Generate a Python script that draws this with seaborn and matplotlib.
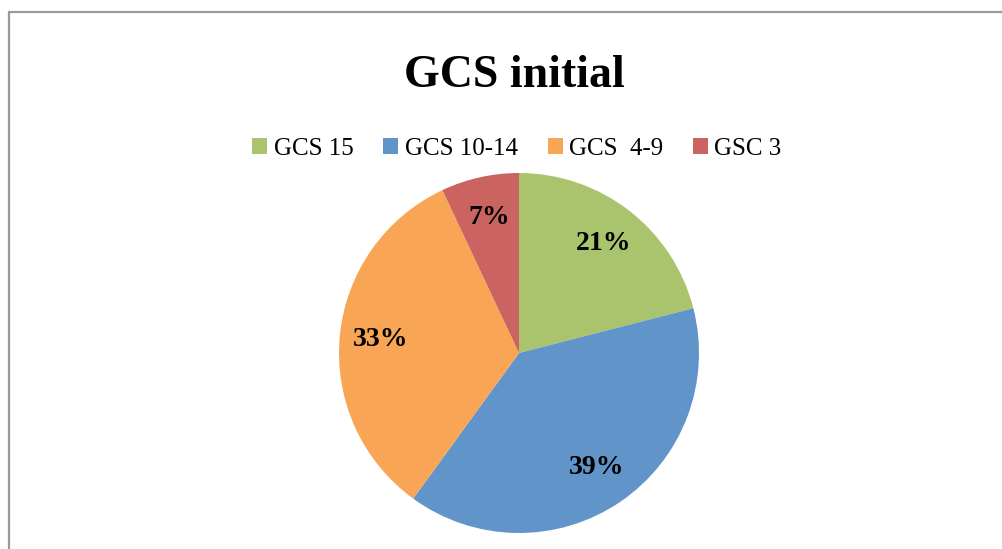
import matplotlib
matplotlib.use("Agg")
import matplotlib.pyplot as plt
from matplotlib.patches import Patch
from matplotlib.lines import Line2D
import seaborn as sns

categories = ["GCS 15", "GCS 10-14", "GCS  4-9", "GSC 3"]
values = [21, 39, 33, 7]
colors = ["#AAC46D", "#6195C9", "#F8A656", "#CB6461"]
title = "GCS initial"

sns.set_theme(style="white")
plt.rcParams["font.family"] = ["Liberation Serif", "DejaVu Serif"]
plt.rcParams["text.color"] = "black"

W, H = 1003, 549
fig = plt.figure(figsize=(W / 100, H / 100), dpi=100)
fig.patch.set_facecolor("white")

# frame (left and top edges visible)
fig.add_artist(Line2D([9.5 / W, 9.5 / W], [0, 1 - 12 / H], color="#9A9A9A", lw=1.6,
                      transform=fig.transFigure))
fig.add_artist(Line2D([9.5 / W, 1], [1 - 12 / H, 1 - 12 / H], color="#9A9A9A", lw=1.6,
                      transform=fig.transFigure))

cx, cy, r = 519, 353, 180
ax = fig.add_axes([(cx - r) / W, (H - cy - r) / H, 2 * r / W, 2 * r / H])
wedges, texts, autotexts = ax.pie(
    values, colors=colors, startangle=90, counterclock=False,
    autopct=lambda p: f"{p:.0f}%", pctdistance=0.77,
    wedgeprops=dict(linewidth=0), textprops=dict(fontsize=20, fontweight="bold", color="black"),
)
ax.set_xlim(-1, 1)
ax.set_ylim(-1, 1)
ax.set_aspect("equal")
ax.axis("off")

fig.text(514 / W, 1 - 87 / H, title, ha="center", va="baseline", fontsize=33,
         fontweight="bold", color="black")

handles = [Patch(facecolor=c, edgecolor="none") for c in colors]
fig.legend(handles, categories, loc="center", bbox_to_anchor=(517 / W, 1 - 149 / H),
           ncol=4, frameon=False, fontsize=18, handlelength=0.6, handleheight=0.6,
           handletextpad=0.25, columnspacing=1.2, borderaxespad=0, labelcolor="black")

fig.savefig("out.png", dpi=100)
